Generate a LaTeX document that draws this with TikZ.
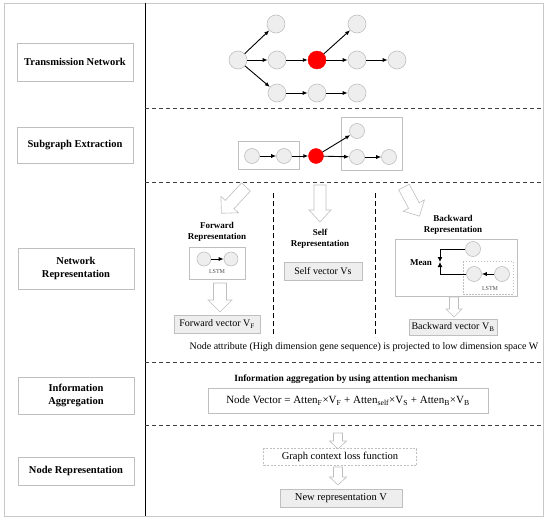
\documentclass[tikz,border=0pt]{standalone}
\usepackage{fontspec}
\setmainfont{Liberation Serif}
\usetikzlibrary{arrows.meta}
\definecolor{bordergray}{HTML}{BFBFBF}
\definecolor{nodefill}{HTML}{EEEEEE}
\definecolor{framegray}{HTML}{C8C8C8}
\definecolor{dashgray}{HTML}{404040}
\tikzset{
  pics/harrow/.style n args={4}{code={
    \draw[hollow] (-#2,0) -- (-#2,#1-#4) -- (-#3,#1-#4) -- (0,#1) -- (#3,#1-#4) -- (#2,#1-#4) -- (#2,0) -- cycle;
  }}
}
\begin{document}
\begin{tikzpicture}[x=1pt,y=-1pt,
  hollow/.style={draw=bordergray, fill=white, line width=0.6pt, line join=miter},
  circ/.style={circle, draw=bordergray, fill=nodefill, minimum size=18pt, inner sep=0pt, line width=0.6pt},
  scirc/.style={circ, minimum size=15pt},
  tcirc/.style={circ, minimum size=14pt},
  redcirc/.style={circle, draw=red, fill=red, minimum size=18pt, inner sep=0pt},
  sredcirc/.style={redcirc, minimum size=15pt},
  edge/.style={-{Latex[length=5pt,width=4pt]}, line width=0.9pt, black},
  labelbox/.style={draw=bordergray, fill=white, line width=0.6pt, font=\bfseries\fontsize{10.5}{12.5}\selectfont, align=center, inner sep=0pt, minimum width=116pt},
  plainbox/.style={draw=bordergray, line width=0.6pt},
  graybox/.style={draw=bordergray, fill=nodefill, line width=0.6pt, inner sep=0pt, font=\fontsize{10}{12}\selectfont},
  subtitle/.style={font=\bfseries\fontsize{9}{10.6}\selectfont, align=center, inner sep=0pt},
  sectdash/.style={dashgray, line width=0.7pt, dash pattern=on 4pt off 3pt},
  coldash/.style={black, line width=0.7pt, dash pattern=on 5pt off 3pt},
  small/.style={font=\fontsize{6}{7}\selectfont, inner sep=0pt, text=black!70}
]
\useasboundingbox (0,0) rectangle (550,522);
% frame
\draw[framegray, line width=0.8pt] (4,3) rectangle (543,516);
\draw[black, line width=0.8pt] (145,3) -- (145,516);
% section dashed lines
\draw[sectdash] (145,108) -- (543,108);
\draw[sectdash] (145,182) -- (543,182);
\draw[sectdash] (145,362) -- (543,362);
\draw[sectdash] (145,425) -- (543,425);
% left labels
\node[labelbox, minimum height=38pt] (l1) at (75,62) {Transmission Network};
\node[labelbox, minimum height=36pt] (l2) at (75,145) {Subgraph Extraction};
\node[labelbox, minimum height=41pt] (l3) at (76,268.5) {Network\\Representation};
\node[labelbox, minimum height=37pt] (l4) at (76,395.5) {Information\\Aggregation};
\node[labelbox, minimum height=28pt] (l5) at (76,471) {Node Representation};

% transmission network
\node[circ] (r) at (238,60) {};
\node[circ] (a1) at (276,24) {};
\node[circ] (a2) at (277,60) {};
\node[circ] (a3) at (277,93) {};
\node[redcirc] (rd) at (317,60) {};
\node[circ] (b1) at (357,24) {};
\node[circ] (b2) at (357,60) {};
\node[circ] (b3) at (397,60) {};
\node[circ] (c2) at (317,93) {};
\node[circ] (c3) at (357,93) {};
\draw[edge] (r) -- (a1);
\draw[edge] (r) -- (a2);
\draw[edge] (r) -- (a3);
\draw[edge] (a2) -- (rd);
\draw[edge] (rd) -- (b1);
\draw[edge] (rd) -- (b2);
\draw[edge] (b2) -- (b3);
\draw[edge] (a3) -- (c2);
\draw[edge] (c2) -- (c3);

% subgraph extraction
\draw[plainbox] (238,141) rectangle (299,169);
\draw[plainbox] (341,117) rectangle (402,170);
\node[scirc] (s1) at (252,156) {};
\node[scirc] (s2) at (284,156) {};
\node[sredcirc] (sr) at (316,156) {};
\node[scirc] (t1) at (357,131) {};
\node[scirc] (t2) at (357,157) {};
\node[scirc] (t3) at (389,157) {};
\draw[edge] (s1) -- (s2);
\draw[edge] (s2) -- (sr);
\draw[edge] (sr) -- (t1);
\draw[edge] (sr) -- (t2);
\draw[edge] (t2) -- (t3);

% network representation
\draw[coldash] (273,193) -- (273,337);
\draw[coldash] (375,193) -- (375,337);
% forward
\pic[rotate=-43] at (246,187) {harrow={36}{6}{12}{12}};
\node[subtitle] (ft) at (217,232) {Forward\\Representation};
\draw[plainbox] (189,247) rectangle (245,279);
\node[tcirc] (f1) at (204,259) {};
\node[tcirc] (f2) at (231,259) {};
\draw[edge] (f1) -- (f2);
\node[small] (fl) at (217,271.5) {LSTM};
\pic at (220,283) {harrow={29}{6.5}{12}{12}};
\node[graybox, minimum width=86pt, minimum height=18pt] (fv) at (217,324) {Forward vector V\textsubscript{F}};
% self
\pic at (320,185) {harrow={37}{6}{11}{12}};
\node[subtitle] (st) at (320,239) {Self\\Representation};
\node[graybox, minimum width=78pt, minimum height=18pt] (sv) at (323,271) {Self vector Vs};
% backward
\pic[rotate=28] at (404,187) {harrow={33}{6}{12}{12}};
\node[subtitle] (bt) at (453,225) {Backward\\Representation};
\draw[plainbox] (395,239) rectangle (517,296);
\draw[bordergray, line width=0.6pt, dash pattern=on 1.5pt off 1.5pt] (463,261) rectangle (513,294);
\node[scirc] (bc) at (473,249) {};
\node[scirc] (bl) at (474,274) {};
\node[scirc] (br) at (502,274) {};
\draw[edge] (br) -- (bl);
\node[small] (bls) at (490,289) {LSTM};
\coordinate (mid) at (440,262);
\draw[edge, -{Latex[length=5pt,width=5pt]}] (bc.west) -| (mid);
\draw[edge, -{Latex[length=5pt,width=5pt]}] (bl.west) -| (mid);
\node[subtitle] (mean) at (421,263) {Mean};
\pic at (454,297) {harrow={20}{4.5}{8}{8}};
\node[graybox, minimum width=88pt, minimum height=16pt] (bv) at (453,327) {Backward vector V\textsubscript{B}};
\node[font=\fontsize{10}{11.5}\selectfont, inner sep=0pt] (attr) at (364,347) {Node attribute (High dimension gene sequence) is projected to low dimension space W};

% information aggregation
\node[font=\bfseries\fontsize{9.5}{11}\selectfont, inner sep=0pt] (it) at (346,379) {Information aggregation by using attention mechanism};
\node[draw=bordergray, line width=0.6pt, minimum width=280pt, minimum height=25pt, inner sep=0pt, font=\fontsize{11}{13}\selectfont] (nv) at (348,401)
  {Node Vector = Atten\textsubscript{F}×V\textsubscript{F} + Atten\textsubscript{self}×V\textsubscript{S} + Atten\textsubscript{B}×V\textsubscript{B}};

% node representation
\pic at (338,433) {harrow={16}{4.5}{8.5}{8}};
\node[draw=bordergray, line width=0.6pt, dash pattern=on 2pt off 1.5pt, minimum width=153pt, minimum height=17pt, inner sep=0pt, font=\fontsize{10.5}{12}\selectfont] (gc) at (340,457) {Graph context loss function};
\pic at (338,467) {harrow={18}{4.5}{8.5}{8}};
\node[graybox, minimum width=122pt, minimum height=18pt, font=\fontsize{10.5}{12}\selectfont] (nr) at (341,498.5) {New representation V};
\end{tikzpicture}
\end{document}
